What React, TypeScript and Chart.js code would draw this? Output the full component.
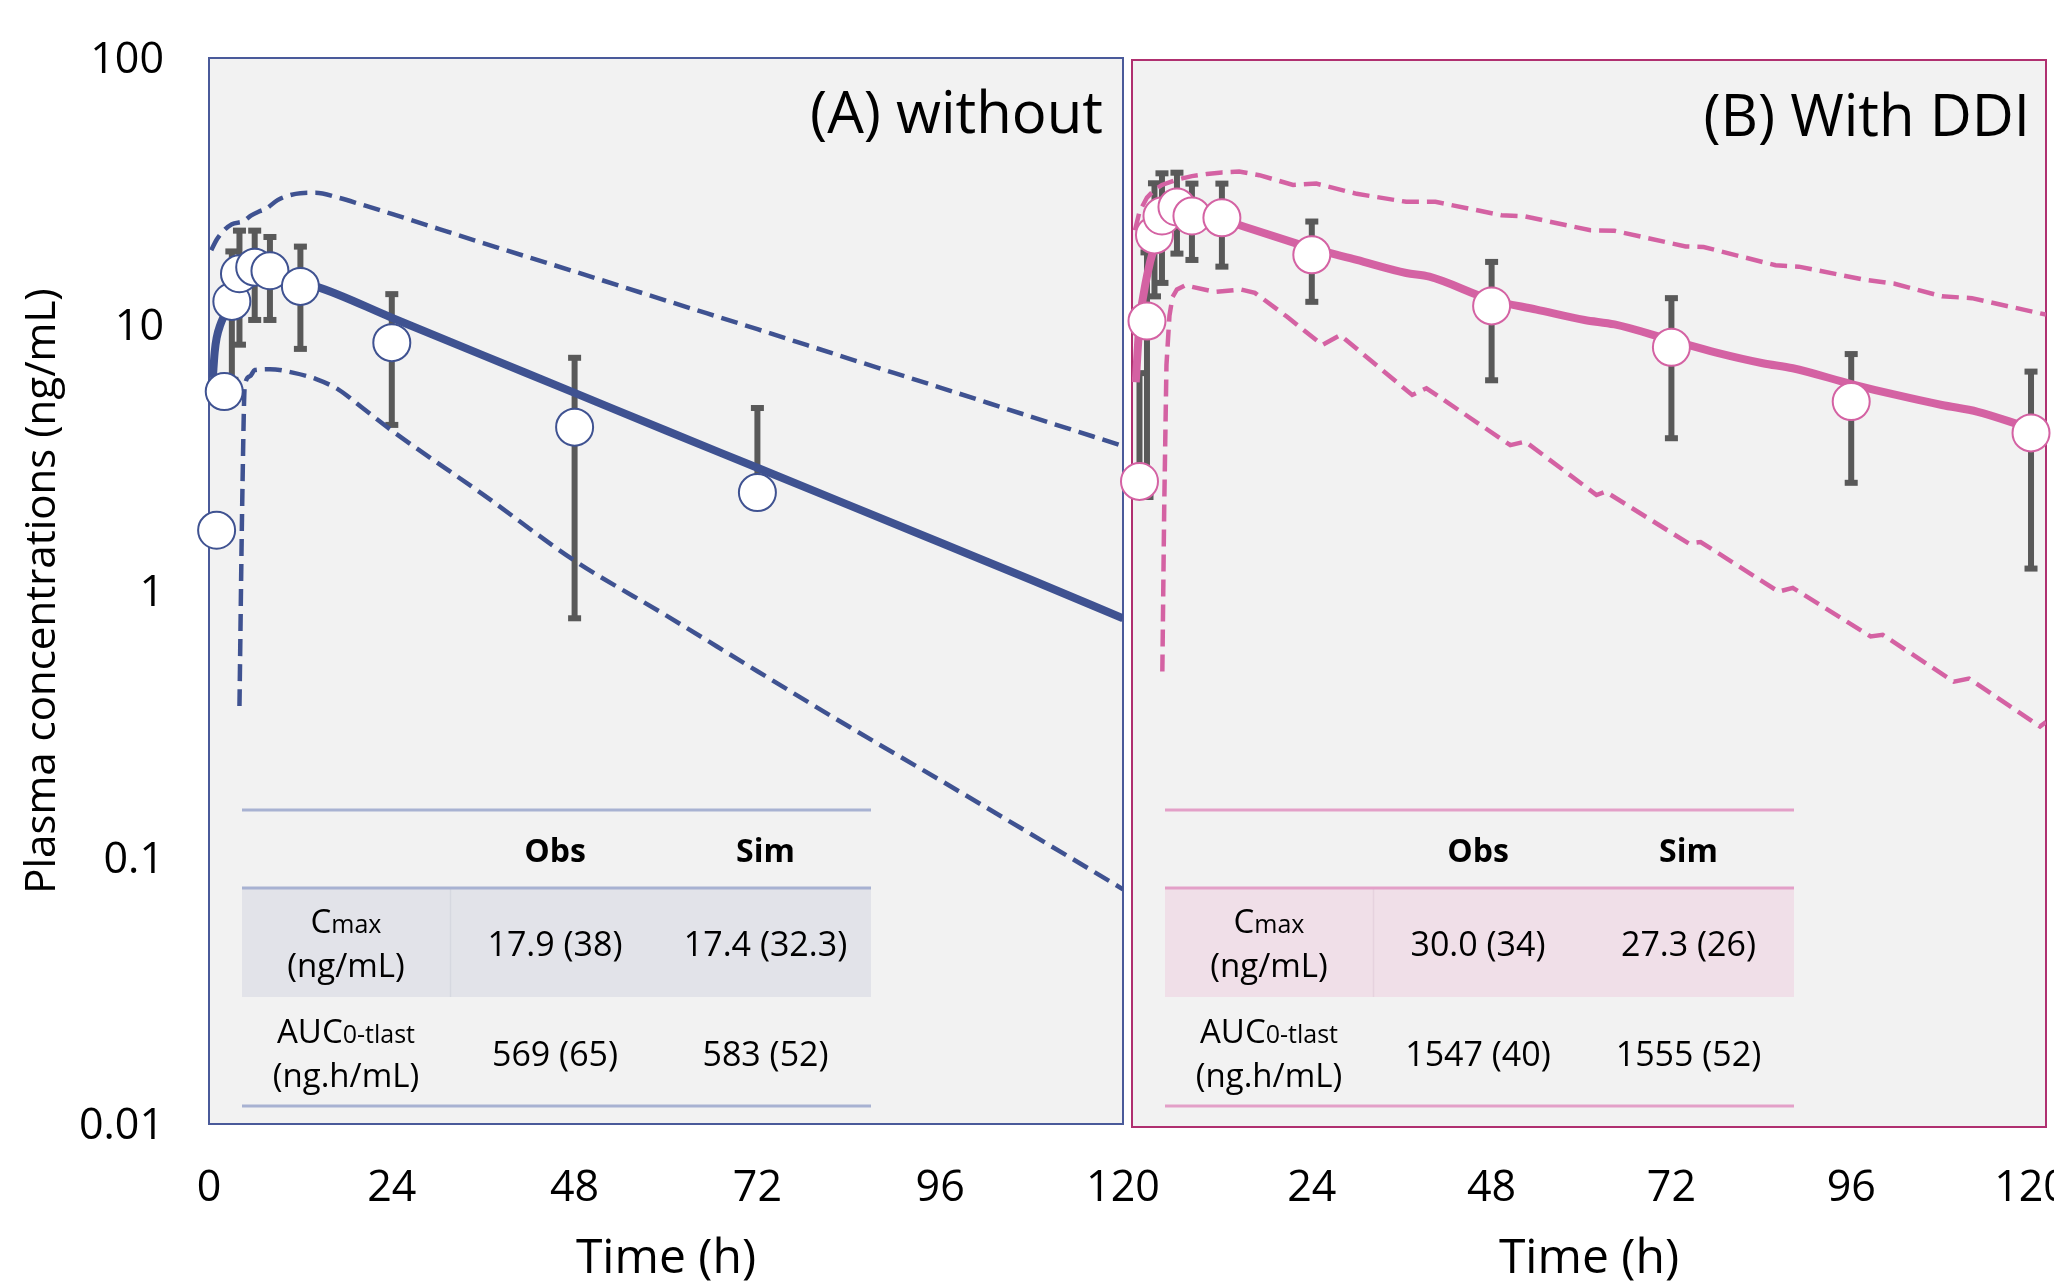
import React, { useEffect, useRef } from 'react';
import { Chart, registerables } from 'chart.js';

Chart.register(...registerables);

const FONT = "'Open Sans', 'DejaVu Sans', sans-serif";
Chart.defaults.font.family = FONT;
Chart.defaults.color = '#000';

// ---------- axis ticks ----------
const yTickValues = [0.01, 0.1, 1, 10, 100];
const xTickValuesA = [0, 24, 48, 72, 96, 120];
const xTickValuesB = [24, 48, 72, 96, 120];

// ---------- Panel A (without) ----------
const obsTimeA = [1, 2, 3, 4, 6, 8, 12, 24, 48, 72];
const obsMeanA = [1.69, 5.6, 12.2, 15.5, 16.4, 15.9, 13.9, 8.55, 4.12, 2.34];
const obsUpperA: (number | null)[] = [null, null, 18.8, 22.5, 22.5, 21.3, 19.6, 13.0, 7.5, 4.86];
const obsLowerA: (number | null)[] = [null, null, 6.2, 8.4, 10.4, 10.4, 8.1, 4.2, 0.79, null];

const simTimeA = [0.5, 0.75, 1, 1.5, 2, 3, 4, 6, 8, 10, 12, 14, 24, 36, 48, 60, 72, 84, 96, 108, 120];
const simMeanA = [6.3, 7.9, 8.9, 10.0, 10.8, 12.4, 13.6, 14.9, 15.2, 14.8, 14.3, 13.9, 10.6, 7.66, 5.54, 4.0, 2.9, 2.1, 1.52, 1.1, 0.79];

const p95TimeA = [0.3, 1, 2, 3, 4.5, 5.5, 6.5, 7.5, 9, 10.5, 12, 14, 17, 20, 24, 36, 48, 60, 72, 84, 96, 108, 120];
const p95A = [19, 20.8, 22.6, 23.8, 24.4, 25.6, 26.5, 27.2, 29.3, 30.5, 31.1, 31.2, 29.9, 28.2, 26.0, 20.2, 15.8, 12.3, 9.6, 7.45, 5.8, 4.5, 3.5];

const p5TimeA = [4.0, 4.4, 4.7, 5.4, 6.0, 8, 11, 14, 17, 20, 24, 36, 48, 60, 72, 84, 96, 108, 120];
const p5A = [0.37, 2.5, 5.9, 6.4, 6.75, 6.8, 6.6, 6.25, 5.7, 4.9, 4.0, 2.3, 1.3, 0.81, 0.5, 0.31, 0.195, 0.122, 0.076];

// ---------- Panel B (with DDI) ----------
const obsTimeB = [1, 2, 3, 4, 6, 8, 12, 24, 48, 72, 96, 120];
const obsMeanB = [2.63, 10.5, 22.1, 26.0, 28.1, 26.0, 25.6, 18.6, 11.97, 8.37, 5.24, 4.0];
const obsUpperB: (number | null)[] = [6.7, 19.0, 34.5, 37.6, 37.8, 34.4, 34.4, 24.8, 17.5, 12.8, 7.9, 6.79];
const obsLowerB: (number | null)[] = [null, 2.3, 13.0, 14.6, 18.8, 17.8, 16.8, 12.4, 6.3, 3.82, 2.6, 1.24];

const simTimeB = [0.5, 1, 2, 3, 4, 6, 8, 10, 12, 15, 22, 24, 30, 36.6, 39.7, 48, 54, 60.4, 64.4, 72, 78, 84.2, 88.2, 96, 102, 108.1, 112.9, 120, 122];
const simMeanB = [6.2, 10.2, 15.5, 20.0, 23.3, 26.5, 27.2, 26.4, 25.3, 23.7, 20.5, 19.7, 17.8, 15.9, 15.4, 12.6, 11.6, 10.6, 10.2, 8.9, 8.0, 7.3, 6.99, 6.1, 5.55, 5.09, 4.8, 4.16, 4.02];

const p95TimeB = [0.4, 1, 2, 3, 4, 6, 8, 10, 12, 14.3, 17, 21.5, 24.6, 30, 36.6, 40.5, 49.3, 52.5, 61.2, 64.4, 73.9, 76.3, 85.9, 89, 97.8, 101.8, 108.1, 112.1, 122];
const p95B = [23.0, 27.0, 30.5, 32.6, 34.0, 35.6, 36.7, 37.4, 37.9, 38.2, 37.0, 34.0, 34.4, 31.5, 29.4, 29.4, 26.2, 25.9, 23.0, 22.9, 20.0, 19.9, 17.0, 16.8, 15.0, 14.5, 13.0, 12.8, 11.1];

const p5TimeB = [4.05, 4.3, 4.6, 5.0, 5.4, 6.0, 7.1, 11.1, 14.5, 16.4, 20.7, 25.4, 27.8, 37.4, 39.3, 50.5, 52.5, 62.0, 63.2, 74.3, 75.9, 86.3, 88.2, 98.6, 100.2, 109.7, 111.7, 121.2, 122];
const p5B = [0.51, 2.1, 7.2, 11.0, 12.9, 13.8, 14.3, 13.5, 13.8, 13.4, 10.9, 8.55, 9.3, 5.55, 5.88, 3.6, 3.71, 2.34, 2.41, 1.54, 1.56, 1.016, 1.05, 0.69, 0.70, 0.467, 0.48, 0.317, 0.33];

// ---------- tables ----------
const tableHeader = ['Obs', 'Sim'];
const cmaxRowA = ['17.9 (38)', '17.4 (32.3)'];
const aucRowA = ['569 (65)', '583 (52)'];
const cmaxRowB = ['30.0 (34)', '27.3 (26)'];
const aucRowB = ['1547 (40)', '1555 (52)'];

const BLUE = '#3F5291';
const PINK = '#D462A3';

type Panel = {
  title: string;
  titleRight: number;
  titleBaseline: number;
  frame: string;
  color: string;
  tableLeft: number;
  tableLine: string;
  tableShade: string;
  tableDivider: string;
  cmax: string[];
  auc: string[];
  obsTime: number[];
  obsMean: number[];
  obsUpper: (number | null)[];
  obsLower: (number | null)[];
};

function textMixed(ctx: CanvasRenderingContext2D, big: string, small: string, cx: number, base: number) {
  ctx.font = `33px ${FONT}`;
  const w1 = ctx.measureText(big).width;
  ctx.font = `25px ${FONT}`;
  const w2 = ctx.measureText(small).width;
  const x0 = cx - (w1 + w2) / 2;
  ctx.textAlign = 'left';
  ctx.font = `33px ${FONT}`;
  ctx.fillText(big, x0, base);
  ctx.font = `25px ${FONT}`;
  ctx.fillText(small, x0 + w1, base);
}

function drawTable(ctx: CanvasRenderingContext2D, p: Panel) {
  const x0 = p.tableLeft;
  const total = 629;
  const c0 = x0 + 104;
  const c1 = x0 + 313;
  const c2 = x0 + 523.5;
  ctx.fillStyle = p.tableShade;
  ctx.fillRect(x0, 888, total, 997 - 888);
  ctx.strokeStyle = p.tableDivider;
  ctx.lineWidth = 1.5;
  ctx.beginPath();
  ctx.moveTo(x0 + 208.5, 889);
  ctx.lineTo(x0 + 208.5, 997);
  ctx.stroke();
  ctx.strokeStyle = p.tableLine;
  ctx.lineWidth = 3;
  [810, 888, 1106].forEach((y) => {
    ctx.beginPath();
    ctx.moveTo(x0, y);
    ctx.lineTo(x0 + total, y);
    ctx.stroke();
  });
  ctx.fillStyle = '#000';
  ctx.textBaseline = 'alphabetic';
  ctx.textAlign = 'center';
  ctx.font = `bold 32px ${FONT}`;
  ctx.fillText(tableHeader[0], c1, 862);
  ctx.fillText(tableHeader[1], c2, 862);
  textMixed(ctx, 'C', 'max', c0, 933);
  ctx.textAlign = 'center';
  ctx.font = `33px ${FONT}`;
  ctx.fillText('(ng/mL)', c0, 977);
  ctx.font = `34px ${FONT}`;
  ctx.fillText(p.cmax[0], c1, 956);
  ctx.fillText(p.cmax[1], c2, 956);
  textMixed(ctx, 'AUC', '0-tlast', c0, 1043);
  ctx.textAlign = 'center';
  ctx.font = `33px ${FONT}`;
  ctx.fillText('(ng.h/mL)', c0, 1087);
  ctx.font = `34px ${FONT}`;
  ctx.fillText(p.auc[0], c1, 1066);
  ctx.fillText(p.auc[1], c2, 1066);
}

function makePlugin(p: Panel) {
  return {
    id: 'panelDecor',
    beforeDatasetsDraw(chart: any) {
      const { ctx, chartArea: a } = chart;
      const xs = chart.scales.x;
      const ys = chart.scales.y;
      ctx.save();
      ctx.fillStyle = '#F2F2F2';
      ctx.fillRect(a.left, a.top, a.right - a.left, a.bottom - a.top);
      drawTable(ctx, p);
      ctx.strokeStyle = p.frame;
      ctx.lineWidth = 2;
      ctx.strokeRect(a.left, a.top, a.right - a.left, a.bottom - a.top);
      ctx.strokeStyle = '#595959';
      ctx.fillStyle = '#595959';
      ctx.lineWidth = 6;
      p.obsTime.forEach((t, i) => {
        const up = p.obsUpper[i];
        const lo = p.obsLower[i];
        if (up == null && lo == null) return;
        const x = xs.getPixelForValue(t);
        const yTop = ys.getPixelForValue(up ?? p.obsMean[i]);
        const yBot = ys.getPixelForValue(lo ?? p.obsMean[i]);
        ctx.beginPath();
        ctx.moveTo(x, yTop);
        ctx.lineTo(x, yBot);
        ctx.stroke();
        if (up != null) ctx.fillRect(x - 6.5, yTop - 3, 13, 6);
        if (lo != null) ctx.fillRect(x - 6.5, yBot - 3, 13, 6);
      });
      ctx.restore();
    },
    afterDatasetsDraw(chart: any) {
      const ctx = chart.ctx;
      ctx.save();
      ctx.fillStyle = '#000';
      ctx.font = `58px ${FONT}`;
      ctx.textAlign = 'right';
      ctx.textBaseline = 'alphabetic';
      ctx.fillText(p.title, p.titleRight, p.titleBaseline);
      ctx.restore();
    },
  };
}

function pts(xs: number[], ys: number[]) {
  return xs.map((x, i) => ({ x, y: ys[i] }));
}

function buildConfig(which: 'A' | 'B'): any {
  const isA = which === 'A';
  const color = isA ? BLUE : PINK;
  const panel: Panel = isA
    ? {
        title: '(A) without', titleRight: 1103, titleBaseline: 133, frame: '#4A5A9A', color,
        tableLeft: 242, tableLine: '#A8B2D2', tableShade: '#E2E3E9', tableDivider: '#D6D8E0',
        cmax: cmaxRowA, auc: aucRowA,
        obsTime: obsTimeA, obsMean: obsMeanA, obsUpper: obsUpperA, obsLower: obsLowerA,
      }
    : {
        title: '(B) With DDI', titleRight: 930, titleBaseline: 136, frame: '#B03070', color,
        tableLeft: 65, tableLine: '#E3A0C8', tableShade: '#F0DFE8', tableDivider: '#E6D2DE',
        cmax: cmaxRowB, auc: aucRowB,
        obsTime: obsTimeB, obsMean: obsMeanB, obsUpper: obsUpperB, obsLower: obsLowerB,
      };
  const dashTension = isA ? 'monotone' : 'default';
  const datasets = [
    {
      data: pts(isA ? obsTimeA : obsTimeB, isA ? obsMeanA : obsMeanB),
      showLine: false,
      pointRadius: 18.5,
      pointBackgroundColor: '#FFFFFF',
      pointBorderColor: color,
      pointBorderWidth: 2,
      clip: false,
      order: 0,
    },
    {
      data: pts(isA ? simTimeA : simTimeB, isA ? simMeanA : simMeanB),
      borderColor: color,
      borderWidth: 8,
      pointRadius: 0,
      cubicInterpolationMode: 'monotone',
      order: 1,
    },
    {
      data: pts(isA ? p95TimeA : p95TimeB, isA ? p95A : p95B),
      borderColor: color,
      borderWidth: 4.5,
      borderDash: [17, 8],
      pointRadius: 0,
      cubicInterpolationMode: dashTension,
      tension: 0,
      order: 2,
    },
    {
      data: pts(isA ? p5TimeA : p5TimeB, isA ? p5A : p5B),
      borderColor: color,
      borderWidth: 4.5,
      borderDash: [17, 8],
      pointRadius: 0,
      cubicInterpolationMode: dashTension,
      tension: 0,
      order: 3,
    },
  ];
  const xTicks = isA ? xTickValuesA : xTickValuesB;
  return {
    type: 'line',
    data: { datasets },
    plugins: [makePlugin(panel)],
    options: {
      responsive: false,
      animation: false,
      events: [],
      layout: {
        autoPadding: false,
        padding: isA ? { left: 0, top: 58, right: 77, bottom: 0 } : { left: 32, top: 60, right: 8, bottom: 0 },
      },
      plugins: { legend: { display: false }, tooltip: { enabled: false } },
      scales: {
        x: {
          type: 'linear',
          min: 0,
          max: isA ? 120 : 122,
          grid: { display: false, drawTicks: false },
          border: { display: false },
          afterBuildTicks: (s: any) => {
            s.ticks = xTicks.map((v) => ({ value: v }));
          },
          afterFit: (s: any) => {
            s.height = isA ? 164 : 161;
            s.paddingLeft = 0;
            s.paddingRight = 0;
          },
          ticks: {
            font: { size: 43 },
            color: '#000',
            padding: isA ? 39 : 36,
            maxRotation: 0,
            autoSkip: false,
            callback: (v: any) => String(v),
          },
          title: { display: true, text: 'Time (h)', font: { size: 48 }, color: '#000', padding: { top: 0, bottom: 0 } },
        },
        y: {
          type: 'logarithmic',
          min: 0.01,
          max: 100,
          display: isA,
          grid: { display: false, drawTicks: false },
          border: { display: false },
          afterBuildTicks: (s: any) => {
            s.ticks = yTickValues.map((v) => ({ value: v }));
          },
          afterFit: (s: any) => {
            if (isA) s.width = 209;
            s.paddingTop = 0;
            s.paddingBottom = 0;
          },
          ticks: {
            font: { size: 43 },
            color: '#000',
            padding: 45,
            labelOffset: 3,
            autoSkip: false,
            callback: (v: any) => String(v),
          },
          title: {
            display: true,
            text: 'Plasma concentrations (ng/mL)',
            font: { size: 42 },
            color: '#000',
            padding: { top: 18, bottom: 0 },
          },
        },
      },
    },
  };
}

function PanelChart({ which, left, width }: { which: 'A' | 'B'; left: number; width: number }) {
  const ref = useRef<HTMLCanvasElement>(null);
  useEffect(() => {
    if (!ref.current) return;
    const chart = new Chart(ref.current, buildConfig(which));
    return () => chart.destroy();
  }, [which]);
  return (
    <canvas
      ref={ref}
      width={width}
      height={1288}
      style={{ position: 'absolute', left, top: 0, width, height: 1288 }}
    />
  );
}

export default function App() {
  return (
    <div style={{ position: 'fixed', left: 0, top: 0, width: 2054, height: 1288, background: '#FFFFFF', overflow: 'hidden' }}>
      <PanelChart which="A" left={0} width={1200} />
      <PanelChart which="B" left={1100} width={954} />
    </div>
  );
}
